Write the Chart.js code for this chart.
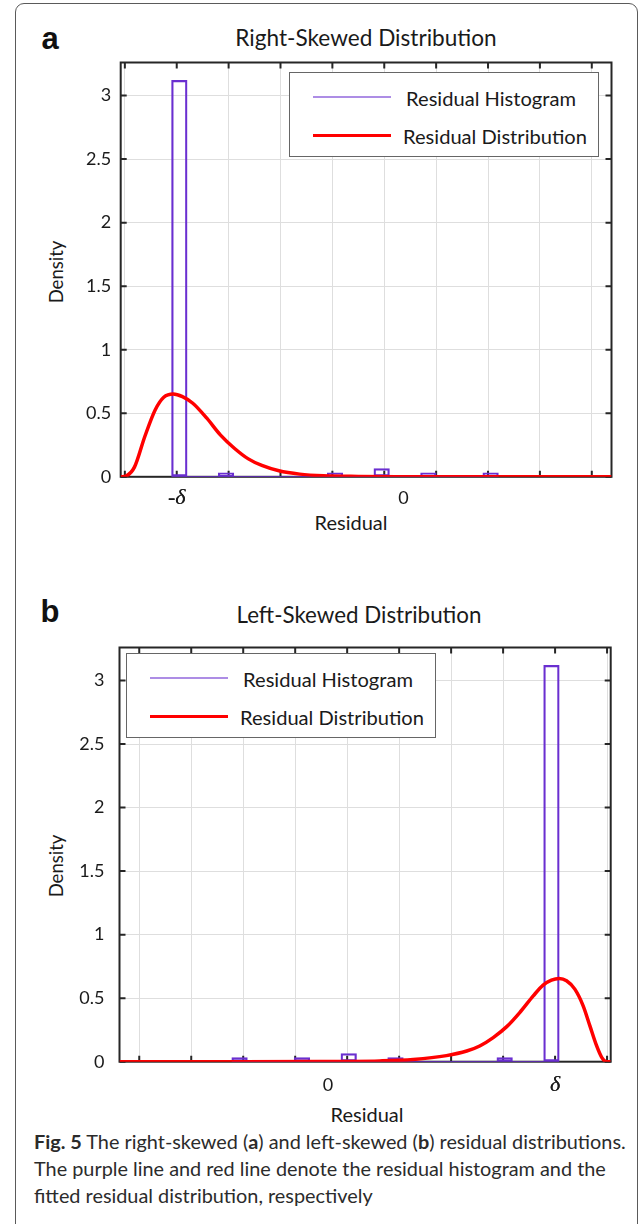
<!DOCTYPE html>
<html>
<head>
<meta charset="utf-8">
<script src="https://cdn.jsdelivr.net/npm/chart.js@4.4.1/dist/chart.umd.min.js"></script>
<style>
  html, body { margin: 0; padding: 0; background: #fff; }
  body { width: 642px; height: 1224px; position: relative; overflow: hidden;
         font-family: Lato, "Open Sans", sans-serif; color: #1a1a1a; }
  .frame { position: absolute; left: 15px; top: 3px; width: 621px; height: 1260px;
           border: 1px solid #5a5a5a; border-radius: 9px; }
  canvas { position: absolute; left: 0; }
  .t { position: absolute; white-space: nowrap; line-height: 1; transform: translate(-50%, -50%); }
  .rot { transform: translate(-50%, -50%) rotate(-90deg); }
  .panel { font-family: "Liberation Sans", Arial, sans-serif; font-weight: bold; font-size: 31px; color: #111; }
  .legend { position: absolute; width: 310px; height: 85px; box-sizing: border-box;
            background: #fff; border: 1px solid #666; }
  .legend .sw { position: absolute; left: 23px; width: 78px; }
  .caption { position: absolute; left: 34px; top: 1128px; line-height: 27px; color: #2b2b2b; }
  .caption div { white-space: nowrap; }
</style>
</head>
<body>
<div class="frame"></div>

<div class="t panel" style="left:50px; top:38px;">a</div>
<div class="t fit" data-w="261" style="left:366px; top:38px;">Right-Skewed Distribution</div>
<div class="t rot fit" data-w="63" style="left:56px; top:272px;">Density</div>
<div class="t fit" data-w="73" style="left:351px; top:522px;">Residual</div>
<canvas id="chartA" width="642" height="540" style="top:0px;"></canvas>

<div class="t panel" style="left:50px; top:611px;">b</div>
<div class="t fit" data-w="245" style="left:359px; top:615px;">Left-Skewed Distribution</div>
<div class="t rot fit" data-w="63" style="left:56px; top:866px;">Density</div>
<div class="t fit" data-w="73" style="left:367px; top:1114px;">Residual</div>
<canvas id="chartB" width="642" height="540" style="top:560px;"></canvas>

<div class="caption" id="caption">
  <div id="capLine1"><b>Fig. 5</b> The right-skewed (<b>a</b>) and left-skewed (<b>b</b>) residual distributions.</div>
  <div>The purple line and red line denote the residual histogram and the</div>
  <div>fitted residual distribution, respectively</div>
</div>

<script>
// x values are in grid steps (one step = distance between two vertical grid lines)
const gridSteps = [0, 1, 2, 3, 4, 5, 6, 7, 8, 9];
const densityTicks = [0, 0.5, 1, 1.5, 2, 2.5, 3];
const densityMax = 3.26;
const legendLabels = ['Residual Histogram', 'Residual Distribution'];
const binWidth = 0.3;

// panel a: right-skewed
const binStartA = 0.9;
const histA = [3.12, 0, 0, 0.032, 0, 0, 0, 0, 0, 0, 0.032, 0, 0, 0.064, 0, 0, 0.032, 0, 0, 0, 0.032];
const fitXA = [-0.08, 0.02, 0.185, 0.385, 0.584, 0.75, 0.935, 1.11, 1.31, 1.58, 1.84, 2.11, 2.38, 2.64, 2.97, 3.37, 3.83, 4.5, 5.5, 7.0, 9.38];
const fitYA = [0, 0.006, 0.076, 0.317, 0.526, 0.626, 0.652, 0.631, 0.579, 0.461, 0.33, 0.225, 0.141, 0.089, 0.047, 0.021, 0.008, 0.003, 0.001, 0, 0];
const tickValsA = [1, 5.37];
const tickTextA = ['-δ', '0'];
const xLimA = [-0.08, 9.38];

// panel b: left-skewed
const binStartB = 1.78;
const histB = [0.032, 0, 0, 0, 0.032, 0, 0, 0.064, 0, 0, 0.032, 0, 0, 0, 0, 0, 0, 0.032, 0, 0, 3.12];
const fitXB = [-0.38, 2.0, 3.5, 4.0, 4.63, 5.27, 5.91, 6.30, 6.55, 6.81, 7.07, 7.32, 7.58, 7.77, 7.93, 8.08, 8.22, 8.38, 8.54, 8.67, 8.80, 8.90, 8.99, 9.07];
const fitYB = [0, 0, 0.001, 0.002, 0.006, 0.018, 0.048, 0.084, 0.124, 0.19, 0.276, 0.387, 0.518, 0.603, 0.642, 0.655, 0.637, 0.571, 0.44, 0.282, 0.124, 0.032, 0, 0];
const tickValsB = [3.63, 8];
const tickTextB = ['0', 'δ'];
const xLimB = [-0.38, 9.07];

const INK = '#1a1a1a';
const GRID = '#dedede';
const FRAME = '#262626';
const PURPLE = '#6a2fd0';
const RED = '#ff0000';

// size text to the widths measured on the reference
function fitText(el, w) {
  el.style.fontSize = '20px';
  const m = el.offsetWidth;
  el.style.fontSize = (20 * w / m).toFixed(2) + 'px';
}
document.querySelectorAll('.fit').forEach(el => fitText(el, +el.dataset.w));
fitText(document.getElementById('capLine1'), 592);
document.getElementById('caption').style.fontSize = document.getElementById('capLine1').style.fontSize;
document.getElementById('capLine1').style.fontSize = '';

// MATLAB-like box: frame plus inward tick marks on all four sides
const boxPlugin = {
  id: 'box',
  beforeDatasetsDraw(chart) {
    const { ctx, chartArea: a, scales } = chart;
    ctx.save();
    ctx.strokeStyle = FRAME;
    ctx.lineWidth = 2;
    ctx.beginPath();
    gridSteps.forEach(v => {
      const px = scales.x.getPixelForValue(v);
      ctx.moveTo(px, a.top); ctx.lineTo(px, a.top + 6);
      ctx.moveTo(px, a.bottom); ctx.lineTo(px, a.bottom - 6);
    });
    densityTicks.forEach(v => {
      const py = scales.y.getPixelForValue(v);
      ctx.moveTo(a.left, py); ctx.lineTo(a.left + 6, py);
      ctx.moveTo(a.right, py); ctx.lineTo(a.right - 6, py);
    });
    ctx.stroke();
    ctx.strokeRect(a.left, a.top, a.right - a.left, a.bottom - a.top);
    ctx.restore();
  }
};

function makeChart(id, p) {
  const bars = p.hist.map((v, k) => ({ x: p.binStart + (k + 0.5) * binWidth, y: v }));
  const fit = p.fitX.map((x, i) => ({ x: x, y: p.fitY[i] }));
  const base = [{ x: p.binStart, y: 0 }, { x: p.binStart + p.hist.length * binWidth, y: 0 }];
  const labelAt = v => p.tickVals.indexOf(v);

  return new Chart(document.getElementById(id), {
    type: 'bar',
    data: {
      datasets: [
        { type: 'line', label: legendLabels[1], data: fit, borderColor: RED, borderWidth: 3.5,
          pointRadius: 0, cubicInterpolationMode: 'monotone', fill: false, order: 0 },
        { type: 'bar', label: legendLabels[0], data: bars, borderColor: PURPLE, borderWidth: 1.6,
          backgroundColor: 'rgba(0,0,0,0)', borderSkipped: false,
          barPercentage: 1, categoryPercentage: 1, order: 1 },
        { type: 'line', label: 'histogram base', data: base, borderColor: PURPLE, borderWidth: 1.6,
          pointRadius: 0, fill: false, order: 2 }
      ]
    },
    options: {
      responsive: false,
      animation: false,
      devicePixelRatio: 1,
      events: [],
      layout: { padding: { left: 0, top: p.plotTop, right: 642 - p.plotRight, bottom: 0 } },
      plugins: { legend: { display: false }, tooltip: { enabled: false }, title: { display: false } },
      scales: {
        x: {
          type: 'linear', min: p.xLim[0], max: p.xLim[1], offset: false,
          afterBuildTicks: s => {
            s.ticks = gridSteps.concat(p.tickVals).sort((a, b) => a - b).map(v => ({ value: v }));
          },
          afterFit: s => { s.height = p.canvasH - p.plotBottom; },
          grid: {
            color: c => (c.tick && labelAt(c.tick.value) >= 0) ? 'rgba(0,0,0,0)' : GRID,
            lineWidth: 1, drawTicks: false, offset: false
          },
          border: { display: false },
          ticks: {
            autoSkip: false, maxRotation: 0, padding: p.xPad, color: INK,
            callback: v => { const i = labelAt(v); return i < 0 ? '' : p.tickText[i]; },
            font: c => {
              const i = c.tick ? labelAt(c.tick.value) : -1;
              if (i >= 0 && p.tickText[i].indexOf('δ') >= 0) {
                return { family: '"Liberation Serif", "DejaVu Serif", serif', style: 'italic', size: 22, lineHeight: 0.98 };
              }
              return { family: 'Lato', size: 18, lineHeight: 1.2 };
            }
          }
        },
        y: {
          min: 0, max: densityMax,
          afterBuildTicks: s => { s.ticks = densityTicks.map(v => ({ value: v })); },
          afterFit: s => { s.width = p.plotLeft; },
          grid: { color: GRID, lineWidth: 1, drawTicks: false },
          border: { display: false },
          ticks: { padding: p.yPad, color: INK, font: { family: 'Lato', size: 18 }, callback: v => String(v) }
        }
      }
    },
    plugins: [boxPlugin]
  });
}

// legend built from the chart's own datasets
function addLegend(chart, left, top) {
  const box = document.createElement('div');
  box.className = 'legend';
  box.style.left = left + 'px';
  box.style.top = top + 'px';
  const hist = chart.data.datasets[1], curve = chart.data.datasets[0];
  const rows = [
    { ds: hist, y: 24, h: 1.5, op: 0.55, cx: 201, w: 170 },
    { ds: curve, y: 62, h: 3, op: 1, cx: 205, w: 184 }
  ];
  rows.forEach(r => {
    const sw = document.createElement('div');
    sw.className = 'sw';
    sw.style.top = (r.y - r.h / 2) + 'px';
    sw.style.height = r.h + 'px';
    sw.style.background = r.ds.borderColor;
    sw.style.opacity = r.op;
    box.appendChild(sw);
    const tx = document.createElement('div');
    tx.className = 't';
    tx.style.left = r.cx + 'px';
    tx.style.top = (r.y + 1) + 'px';
    tx.textContent = r.ds.label;
    box.appendChild(tx);
    document.body.appendChild(box);
    fitText(tx, r.w);
  });
}

const chartA = makeChart('chartA', {
  hist: histA, binStart: binStartA, fitX: fitXA, fitY: fitYA,
  tickVals: tickValsA, tickText: tickTextA, xLim: xLimA,
  canvasH: 540, plotLeft: 120.7, plotRight: 611.5, plotTop: 62.5, plotBottom: 476.8,
  xPad: 10.7, yPad: 9.5
});
const chartB = makeChart('chartB', {
  hist: histB, binStart: binStartB, fitX: fitXB, fitY: fitYB,
  tickVals: tickValsB, tickText: tickTextB, xLim: xLimB,
  canvasH: 540, plotLeft: 119.5, plotRight: 610.7, plotTop: 87.5, plotBottom: 501.7,
  xPad: 12.5, yPad: 15
});

addLegend(chartA, 289, 72);
addLegend(chartB, 126, 653);
</script>
</body>
</html>
